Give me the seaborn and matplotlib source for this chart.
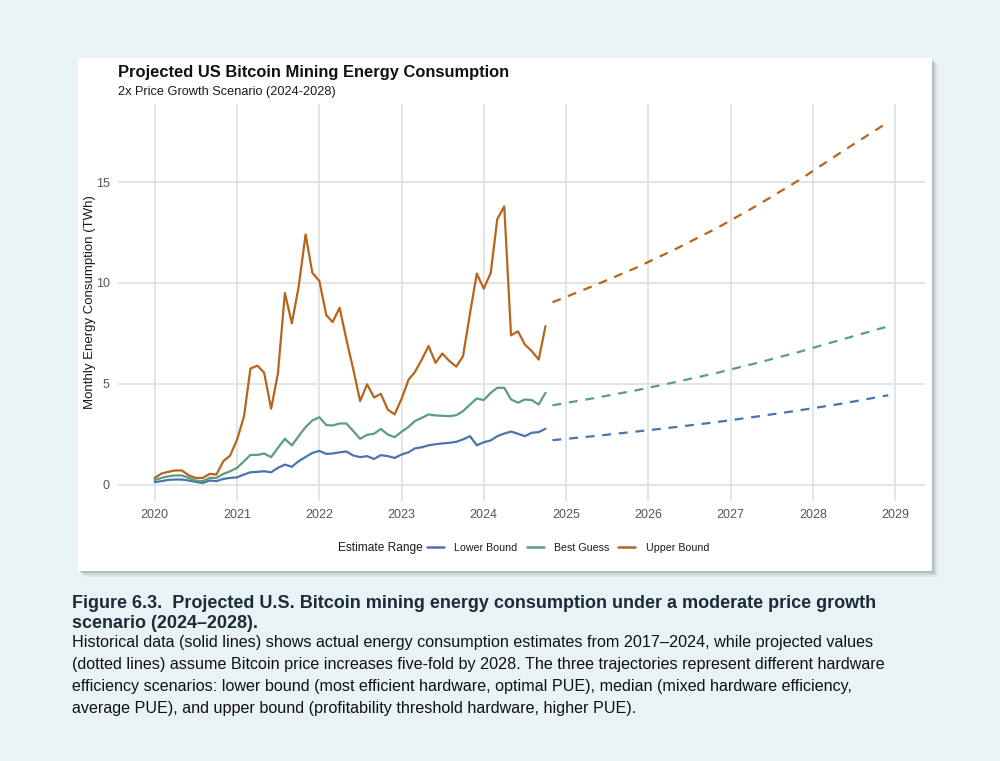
import pandas as pd
import matplotlib.pyplot as plt
import matplotlib.dates as mdates
from matplotlib.patches import Rectangle
import seaborn as sns

# ---- data ----
series_names = ["Lower Bound", "Best Guess", "Upper Bound"]
series_colors = ["#4a74ab", "#5b9e7c", "#b5651d"]

hist_start = "2020-01-01"
lower_hist = [0.12, 0.17, 0.23, 0.25, 0.25, 0.20, 0.13, 0.08, 0.20, 0.17, 0.28, 0.33,
              0.36, 0.50, 0.61, 0.63, 0.66, 0.61, 0.83, 0.99, 0.88, 1.16, 1.37, 1.57,
              1.67, 1.52, 1.54, 1.60, 1.64, 1.44, 1.36, 1.41, 1.27, 1.46, 1.41, 1.32,
              1.49, 1.60, 1.79, 1.85, 1.95, 2.00, 2.04, 2.07, 2.12, 2.24, 2.40, 1.95,
              2.10, 2.19, 2.40, 2.53, 2.63, 2.52, 2.40, 2.57, 2.60, 2.77]
best_hist = [0.22, 0.33, 0.41, 0.45, 0.45, 0.33, 0.20, 0.17, 0.33, 0.33, 0.53, 0.66,
             0.83, 1.16, 1.47, 1.47, 1.54, 1.36, 1.82, 2.27, 1.94, 2.40, 2.85, 3.18,
             3.34, 2.95, 2.93, 3.03, 3.03, 2.65, 2.27, 2.47, 2.52, 2.76, 2.48, 2.35,
             2.62, 2.86, 3.15, 3.31, 3.48, 3.43, 3.41, 3.39, 3.44, 3.64, 3.97, 4.27,
             4.19, 4.55, 4.80, 4.80, 4.22, 4.06, 4.22, 4.19, 3.97, 4.55]
upper_hist = [0.33, 0.55, 0.63, 0.70, 0.70, 0.45, 0.33, 0.33, 0.53, 0.50, 1.16, 1.44,
              2.24, 3.40, 5.75, 5.90, 5.55, 3.76, 5.50, 9.50, 8.00, 9.80, 12.40, 10.50,
              10.10, 8.40, 8.06, 8.77, 7.20, 5.70, 4.14, 4.97, 4.32, 4.50, 3.72, 3.48,
              4.25, 5.20, 5.58, 6.20, 6.87, 6.04, 6.50, 6.13, 5.85, 6.37, 8.50, 10.46,
              9.72, 10.50, 13.16, 13.80, 7.40, 7.60, 6.95, 6.62, 6.20, 7.86]

proj_dates = ["2024-11-01", "2025-05-01", "2025-11-01", "2026-05-01", "2026-11-01",
              "2027-05-01", "2027-11-01", "2028-05-01", "2028-12-01"]
lower_proj = [2.20, 2.40, 2.62, 2.85, 3.10, 3.38, 3.68, 4.00, 4.43]
best_proj = [3.93, 4.28, 4.66, 5.08, 5.54, 6.04, 6.58, 7.17, 7.85]
upper_proj = [9.04, 9.85, 10.72, 11.68, 12.72, 13.86, 15.10, 16.45, 17.98]

year_ticks = list(range(2020, 2030))
y_ticks = [0, 5, 10, 15]

title = "Projected US Bitcoin Mining Energy Consumption"
subtitle = "2x Price Growth Scenario (2024-2028)"
y_label = "Monthly Energy Consumption (TWh)"
legend_title = "Estimate Range"
caption_bold = ["Figure 6.3.  Projected U.S. Bitcoin mining energy consumption under a moderate price growth",
                "scenario (2024\u20132028)."]
caption_body = ["Historical data (solid lines) shows actual energy consumption estimates from 2017\u20132024, while projected values",
                "(dotted lines) assume Bitcoin price increases five-fold by 2028. The three trajectories represent different hardware",
                "efficiency scenarios: lower bound (most efficient hardware, optimal PUE), median (mixed hardware efficiency,",
                "average PUE), and upper bound (profitability threshold hardware, higher PUE)."]

# ---- long-form tables ----
hist_dates = pd.date_range(hist_start, periods=len(lower_hist), freq="MS")
hist_df = pd.concat([
    pd.DataFrame({"date": hist_dates, "value": vals, "range": name})
    for name, vals in zip(series_names, [lower_hist, best_hist, upper_hist])
])
proj_df = pd.concat([
    pd.DataFrame({"date": pd.to_datetime(proj_dates), "value": vals, "range": name})
    for name, vals in zip(series_names, [lower_proj, best_proj, upper_proj])
])
palette = dict(zip(series_names, series_colors))

sns.set_theme(style="white")
plt.rcParams["font.family"] = ["Liberation Sans", "DejaVu Sans"]

bg = "#e9f3f5"
fig = plt.figure(figsize=(10, 7.61), dpi=100, facecolor=bg)

# white card with a soft shadow
px_w, px_h = 1000, 761
card_x0, card_x1, card_y0, card_y1 = 78, 932, 58, 571
for off, a in [(6, 0.10), (4, 0.18), (2, 0.30)]:
    fig.patches.append(Rectangle(((card_x0 + off) / px_w, 1 - (card_y1 + off) / px_h),
                                 (card_x1 - card_x0) / px_w, (card_y1 - card_y0) / px_h,
                                 transform=fig.transFigure, facecolor="#7d8487",
                                 edgecolor="none", alpha=a, zorder=0))
fig.patches.append(Rectangle((card_x0 / px_w, 1 - card_y1 / px_h),
                             (card_x1 - card_x0) / px_w, (card_y1 - card_y0) / px_h,
                             transform=fig.transFigure, facecolor="white",
                             edgecolor="none", zorder=1))

ax = fig.add_axes([118 / px_w, 1 - 501 / px_h, (925 - 118) / px_w, (501 - 104) / px_h])
ax.set_facecolor("white")
ax.set_zorder(2)

sns.lineplot(data=hist_df, x="date", y="value", hue="range", palette=palette,
             estimator=None, linewidth=1.6, legend=False, ax=ax)
sns.lineplot(data=proj_df, x="date", y="value", hue="range", palette=palette,
             estimator=None, linewidth=1.6, linestyle=(0, (4, 3.5)), legend=False, ax=ax)

# ggplot-like 5% expansion
all_dates = pd.concat([hist_df["date"], proj_df["date"]])
xmin, xmax = mdates.date2num(all_dates.min()), mdates.date2num(all_dates.max())
pad = (xmax - xmin) * 0.05
ax.set_xlim(xmin - pad, xmax + pad)
all_vals = pd.concat([hist_df["value"], proj_df["value"]])
ypad = (all_vals.max() - all_vals.min()) * 0.05
ax.set_ylim(all_vals.min() - ypad, all_vals.max() + ypad)

ax.set_xticks([mdates.date2num(pd.Timestamp(f"{y}-01-01")) for y in year_ticks])
ax.set_xticklabels([str(y) for y in year_ticks])
ax.set_yticks(y_ticks)
ax.tick_params(axis="both", length=0, labelsize=9, labelcolor="#555555", pad=6)
ax.grid(True, color="#e2e2e2", linewidth=1.3)
for s in ax.spines.values():
    s.set_visible(False)
ax.set_xlabel("")
ax.set_ylabel(y_label, fontsize=9.5, color="#1a1a1a")
ax.yaxis.set_label_coords(-0.027, 0.5)

# titles
fig.text(118 / px_w, 1 - 72 / px_h, title, fontsize=11.9, fontweight="bold",
         color="#111111", va="center", ha="left", zorder=3)
fig.text(118 / px_w, 1 - 92 / px_h, subtitle, fontsize=9.2, color="#1a1a1a",
         va="center", ha="left", zorder=3)

# legend
handles = [plt.Line2D([], [], color=c, linewidth=1.8) for c in series_colors]
fig.legend(handles, series_names, loc="center", bbox_to_anchor=(568 / px_w, 1 - 548 / px_h),
           ncol=3, frameon=False, fontsize=7.7, handlelength=1.6, handletextpad=0.95,
           columnspacing=0.85, borderpad=0, labelcolor="#1a1a1a")
fig.text(338 / px_w, 1 - 548 / px_h, legend_title, fontsize=8.6, color="#1a1a1a",
         va="center", ha="left", zorder=3)

# caption
cap_x = 72 / px_w
for i, line in enumerate(caption_bold):
    fig.text(cap_x, 1 - (603 + 20 * i) / px_h, line, fontsize=13.0, fontweight="bold",
             color="#1c2b3a", va="center", ha="left")
for i, line in enumerate(caption_body):
    fig.text(cap_x, 1 - (643 + 22 * i) / px_h, line, fontsize=11.6,
             color="#111111", va="center", ha="left")

fig.savefig("out.png", dpi=100, facecolor=bg)
